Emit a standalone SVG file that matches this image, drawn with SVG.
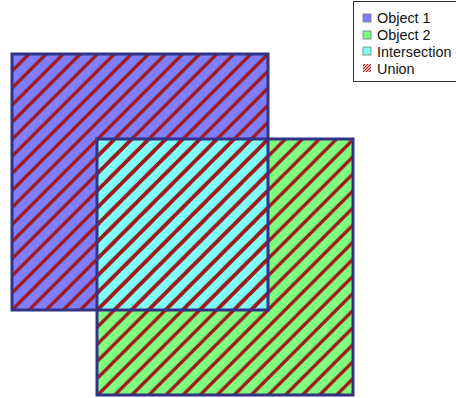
<svg xmlns="http://www.w3.org/2000/svg" width="456" height="398" viewBox="0 0 456 398">
  <style>
    .edge { fill: none; stroke: #333385; stroke-width: 3; }
    .label { font-family: "Liberation Sans", Arial, sans-serif; font-size: 14.4px; fill: #111; }
    .key { stroke: #777; stroke-width: 0.8; }
  </style>
  <defs>
    <!-- 45° union hatch, period 256/15 so lines pass through the square corners -->
    <pattern id="hatch" patternUnits="userSpaceOnUse" x="12" y="54" width="17.0667" height="17.0667">
      <path d="M-1,18.0667 L18.0667,-1 M-3,3 L3,-3 M14.0667,20.0667 L20.0667,14.0667" stroke="#a01818" stroke-width="3.4" fill="none"/>
    </pattern>
    <pattern id="hatchKey" patternUnits="userSpaceOnUse" x="0" y="0" width="3" height="3">
      <path d="M-0.5,3.5 L3.5,-0.5 M-1,1 L1,-1 M2,4 L4,2" stroke="#a01818" stroke-width="1.2" fill="none"/>
    </pattern>
  </defs>

  <g id="object1">
    <rect x="12" y="54" width="256" height="256" fill="#7f7ffe"/>
  </g>
  <g id="object2">
    <rect x="97" y="139" width="256" height="256" fill="#7ffe7f"/>
  </g>
  <g id="intersection">
    <rect x="97" y="139" width="171" height="171" fill="#7ffefe"/>
  </g>
  <g id="union">
    <rect x="12" y="54" width="256" height="256" fill="url(#hatch)"/>
    <rect x="97" y="139" width="256" height="256" fill="url(#hatch)"/>
  </g>
  <g id="outlines">
    <rect class="edge" x="12" y="54" width="256" height="256"/>
    <rect class="edge" x="97" y="139" width="256" height="256"/>
  </g>

  <g id="legend">
    <rect x="353.5" y="1.5" width="103" height="80" fill="#fff" stroke="#333" stroke-width="1"/>
    <rect class="key" x="363" y="14" width="8" height="8" fill="#7f7ffe"/>
    <rect class="key" x="363" y="31" width="8" height="8" fill="#7ffe7f"/>
    <rect class="key" x="363" y="47" width="8" height="8" fill="#7ffefe"/>
    <rect x="363" y="64" width="8" height="8" fill="url(#hatchKey)"/>
    <text class="label" x="377" y="23">Object 1</text>
    <text class="label" x="377" y="40">Object 2</text>
    <text class="label" x="377" y="56.5">Intersection</text>
    <text class="label" x="377" y="73.5">Union</text>
  </g>
</svg>
